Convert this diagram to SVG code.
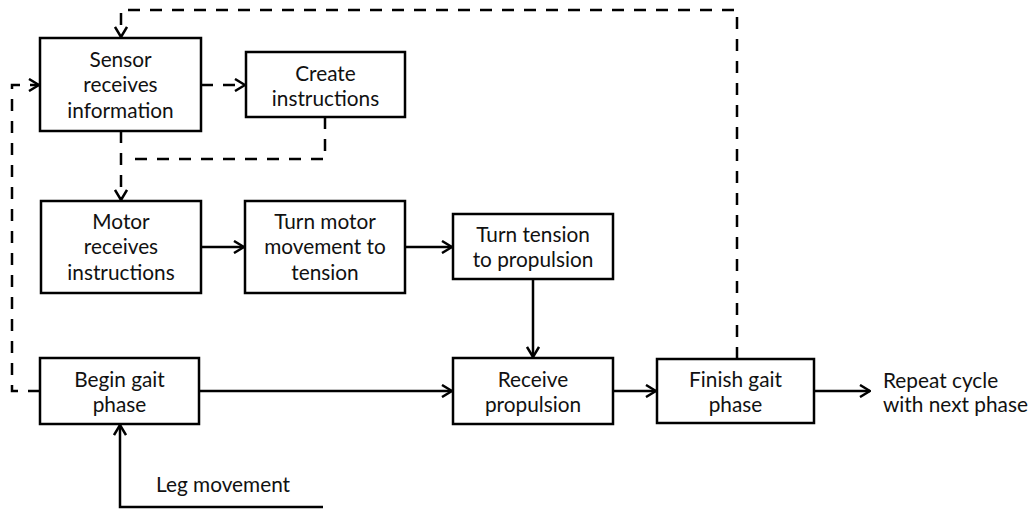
<svg xmlns="http://www.w3.org/2000/svg" width="1031" height="510" viewBox="0 0 1031 510">
<style>
.box{fill:#fff;stroke:#000;stroke-width:2.5}
.t{font-family:Lato,"Open Sans",sans-serif;font-size:20.8px;fill:#111;text-anchor:middle}
.tl{font-family:Lato,"Open Sans",sans-serif;font-size:20.8px;fill:#111}
.c{fill:none;stroke:#000;stroke-width:2.5}
.d{stroke-dasharray:12 10}
</style>
<defs>
<marker id="ah" viewBox="0 0 12 14" refX="11" refY="7" markerWidth="12" markerHeight="14" markerUnits="userSpaceOnUse" orient="auto">
<path d="M1,1 L11,7 L1,13" fill="none" stroke="#000" stroke-width="2.5" stroke-dasharray="none"/>
</marker>
</defs>
<g id="connectors">
<path class="c d" d="M737,359 V10 H121 V37" marker-end="url(#ah)"/>
<path class="c d" d="M40,391 H12 V85 H39" marker-end="url(#ah)"/>
<path class="c d" d="M201,85 H245" marker-end="url(#ah)"/>
<path class="c d" d="M325,117 V159 H129"/>
<path class="c d" d="M121,131 V200" marker-end="url(#ah)"/>
<path class="c" d="M201,247 H244" marker-end="url(#ah)"/>
<path class="c" d="M405,247 H452" marker-end="url(#ah)"/>
<path class="c" d="M533,279 V357" marker-end="url(#ah)"/>
<path class="c" d="M199,391 H452" marker-end="url(#ah)"/>
<path class="c" d="M613,391 H656" marker-end="url(#ah)"/>
<path class="c" d="M814,391 H870" marker-end="url(#ah)"/>
<path class="c" d="M323,507 H120 V425" marker-end="url(#ah)"/>
</g>
<g id="sensor">
<rect class="box" x="40" y="38" width="161" height="93"/>
<text class="t" x="120.5" y="67">Sensor</text>
<text class="t" x="120.5" y="92">receives</text>
<text class="t" x="120.5" y="118">information</text>
</g>
<g id="create">
<rect class="box" x="246" y="52" width="159" height="65"/>
<text class="t" x="325.5" y="81">Create</text>
<text class="t" x="325.5" y="106">instructions</text>
</g>
<g id="motor">
<rect class="box" x="41" y="201" width="160" height="92"/>
<text class="t" x="121" y="229">Motor</text>
<text class="t" x="121" y="254">receives</text>
<text class="t" x="121" y="280">instructions</text>
</g>
<g id="turnmotor">
<rect class="box" x="245" y="201" width="160" height="92"/>
<text class="t" x="325" y="229">Turn motor</text>
<text class="t" x="325" y="254">movement to</text>
<text class="t" x="325" y="280">tension</text>
</g>
<g id="turntension">
<rect class="box" x="453" y="214" width="160" height="65"/>
<text class="t" x="533" y="242">Turn tension</text>
<text class="t" x="533" y="267">to propulsion</text>
</g>
<g id="begin">
<rect class="box" x="40" y="358" width="159" height="66"/>
<text class="t" x="119.5" y="387">Begin gait</text>
<text class="t" x="119.5" y="412">phase</text>
</g>
<g id="receive">
<rect class="box" x="453" y="358" width="160" height="66"/>
<text class="t" x="533" y="387">Receive</text>
<text class="t" x="533" y="412">propulsion</text>
</g>
<g id="finish">
<rect class="box" x="657" y="359" width="157" height="64"/>
<text class="t" x="735.5" y="387">Finish gait</text>
<text class="t" x="735.5" y="412">phase</text>
</g>
<g id="repeat">
<text class="tl" x="883" y="388">Repeat cycle</text>
<text class="tl" x="883" y="412">with next phase</text>
</g>
<g id="leg">
<text class="tl" x="156" y="492">Leg movement</text>
</g>
</svg>
